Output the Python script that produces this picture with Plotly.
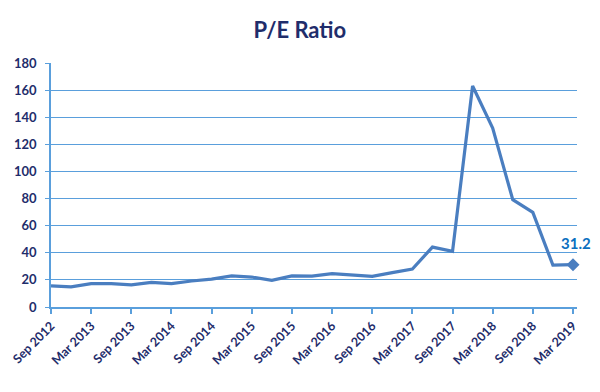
import plotly.graph_objects as go

quarters = ["Sep 2012", "Dec 2012", "Mar 2013", "Jun 2013", "Sep 2013", "Dec 2013",
            "Mar 2014", "Jun 2014", "Sep 2014", "Dec 2014", "Mar 2015", "Jun 2015",
            "Sep 2015", "Dec 2015", "Mar 2016", "Jun 2016", "Sep 2016", "Dec 2016",
            "Mar 2017", "Jun 2017", "Sep 2017", "Dec 2017", "Mar 2018", "Jun 2018",
            "Sep 2018", "Dec 2018", "Mar 2019"]
pe_ratio = [15.6, 14.8, 17.2, 17.2, 16.3, 18.1, 17.2, 19.2, 20.6, 23.0, 22.1, 19.6,
            22.9, 22.8, 24.6, 23.8, 22.6, 25.4, 28.0, 44.2, 41.0, 163.0, 132.0, 79.2,
            69.8, 30.9, 31.2]
tick_labels = quarters[::2]

x_idx = list(range(len(quarters)))
navy = "#1F2D6B"
grid_blue = "#5A9FDC"
line_blue = "#4A7EC0"
font_fam = "Lato, Open Sans, Arial"

fig = go.Figure()
fig.add_trace(go.Scatter(
    x=x_idx, y=pe_ratio, mode="lines",
    line=dict(color=line_blue, width=3.2),
    hoverinfo="skip", showlegend=False,
))
fig.add_trace(go.Scatter(
    x=[x_idx[-1]], y=[pe_ratio[-1]], mode="markers",
    marker=dict(symbol="diamond", size=10, color=line_blue),
    showlegend=False, hoverinfo="skip",
))
fig.add_annotation(
    x=x_idx[-1], y=pe_ratio[-1], text=f"<b>{pe_ratio[-1]:.1f}</b>",
    showarrow=False, xshift=3, yshift=22,
    font=dict(family=font_fam, size=15, color="#0B6FC0"),
)

fig.update_layout(
    width=592, height=384,
    paper_bgcolor="white", plot_bgcolor="white",
    margin=dict(l=43, r=23, t=55, b=85, autoexpand=False),
    title=dict(text="<b>P/E Ratio</b>", x=0.493, xanchor="center", y=0.943, yanchor="middle",
               font=dict(family=font_fam, size=22, color=navy)),
    xaxis=dict(
        range=[0, 26.2], tickmode="array",
        tickvals=x_idx[::2], ticktext=tick_labels,
        tickangle=-45, showgrid=False, automargin=False,
        showline=True, linecolor=grid_blue, linewidth=1.5,
        ticks="outside", ticklen=5, tickcolor=grid_blue, tickwidth=1.5,
        tickfont=dict(family=font_fam, size=12.5, color=navy, weight="bold"),
        zeroline=False,
    ),
    yaxis=dict(
        range=[0, 180], tickmode="array", tickvals=list(range(0, 181, 20)),
        showgrid=True, gridcolor=grid_blue, gridwidth=1.3, automargin=False,
        showline=True, linecolor=grid_blue, linewidth=1.5,
        ticks="outside", ticklen=4, tickcolor=grid_blue,
        ticklabelstandoff=6,
        tickfont=dict(family=font_fam, size=13, color=navy, weight="bold"),
        zeroline=False,
    ),
)
fig.update_traces(cliponaxis=False)

fig.write_html("out.html")
